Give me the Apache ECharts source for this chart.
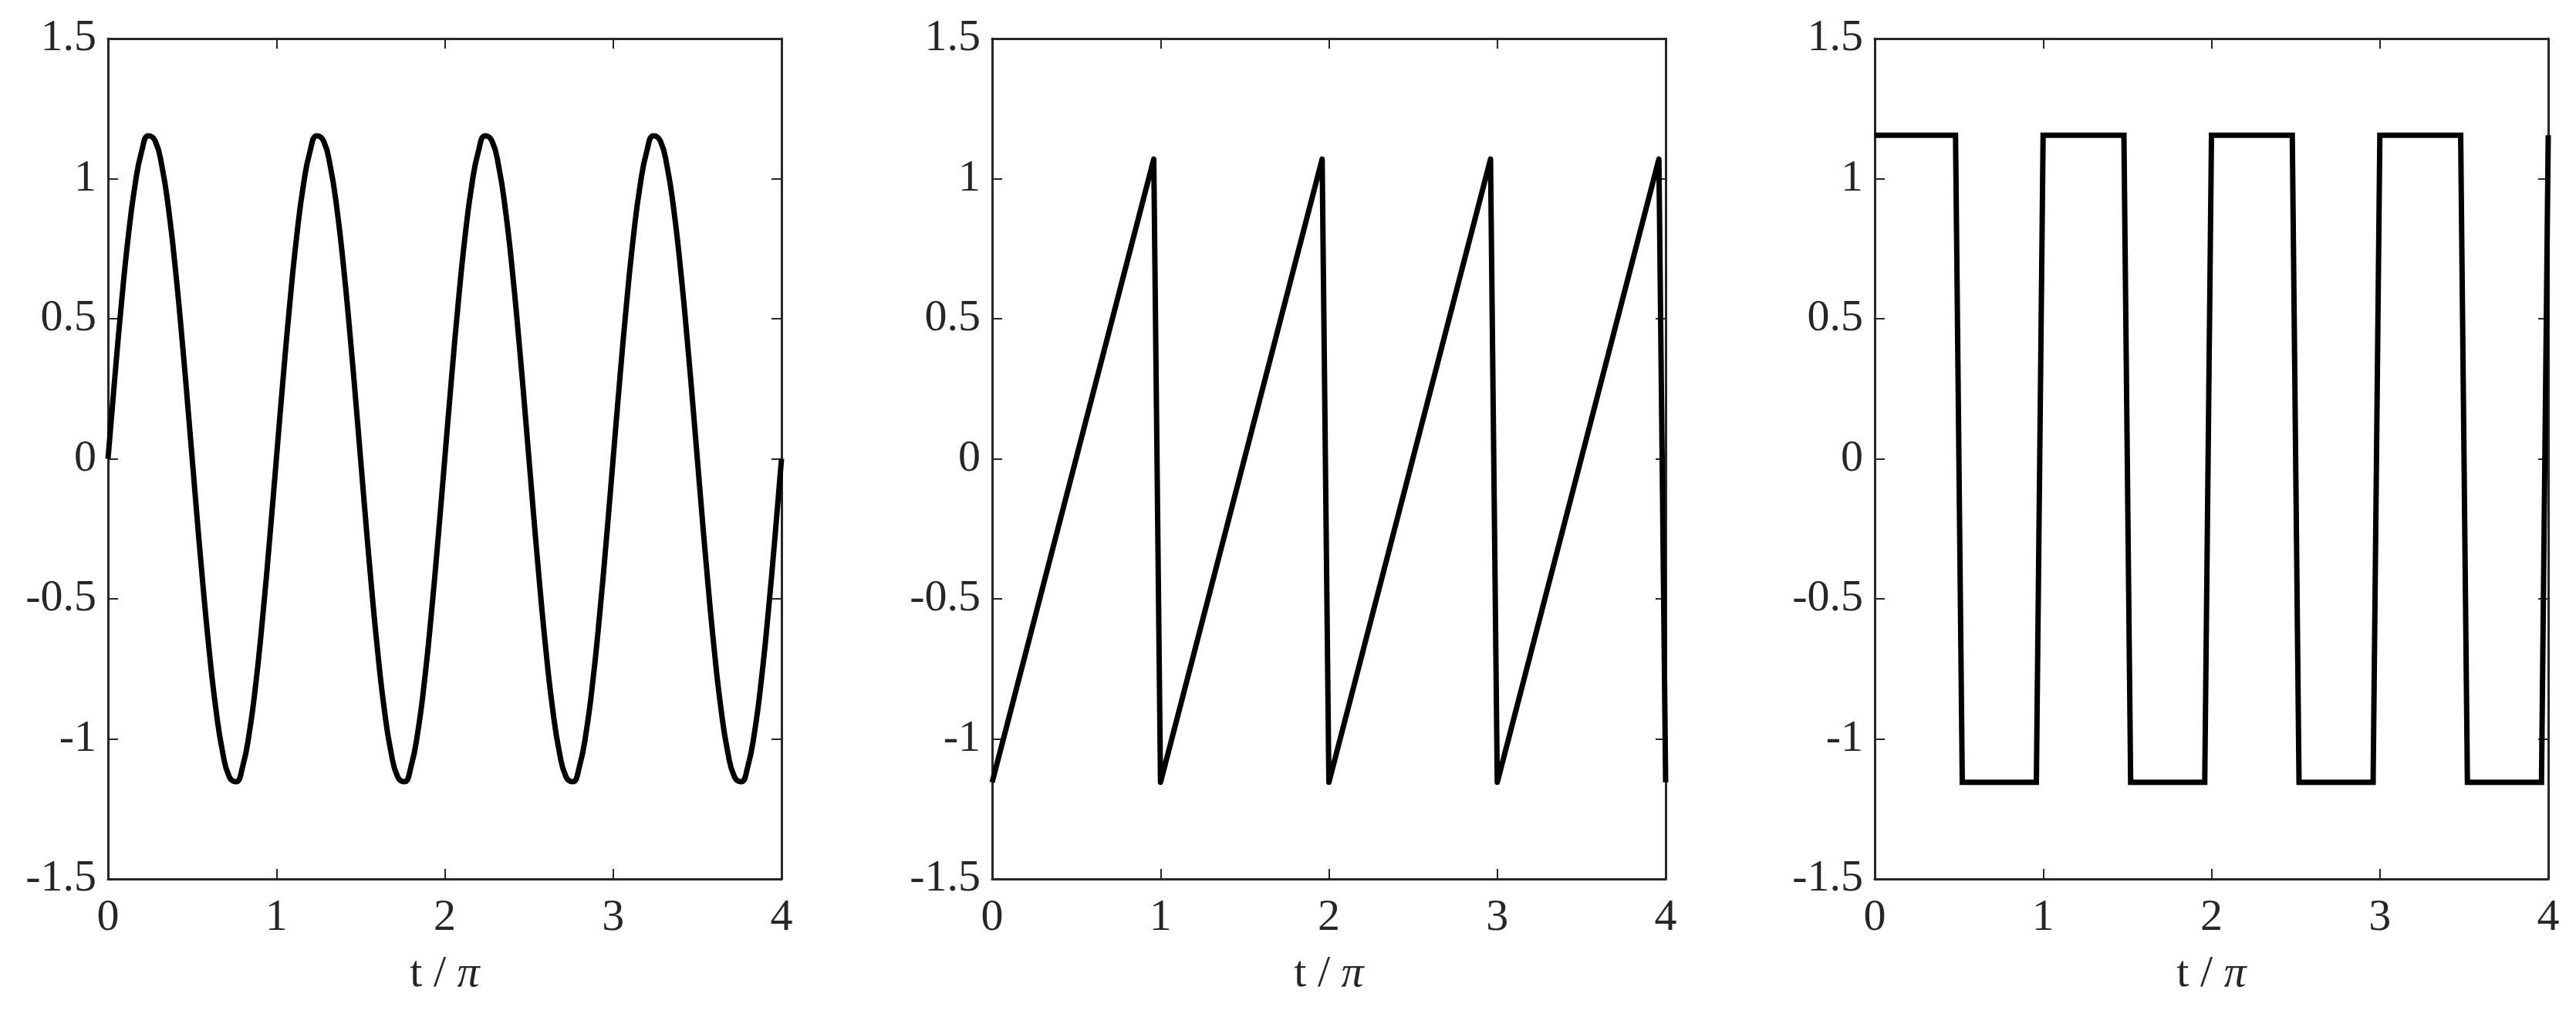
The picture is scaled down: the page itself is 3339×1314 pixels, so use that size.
<!DOCTYPE html>
<html>
<head>
<meta charset="utf-8">
<script src="https://cdn.jsdelivr.net/npm/echarts@6/dist/echarts.min.js"></script>
<style>
  html, body { margin: 0; padding: 0; background: #fff; }
  #main { width: 3339px; height: 1314px; }
</style>
</head>
<body>
<div id="main"></div>
<script>
// data (x in units of pi)
var tSine = [
  0, 0.04, 0.08, 0.12, 0.16, 0.2, 0.24, 0.28, 0.32, 0.36, 0.4, 0.44, 0.48, 0.52, 0.56, 0.6, 0.64, 0.68, 0.72, 0.76, 0.8, 0.84, 0.88, 0.92, 0.96,
  1, 1.04, 1.08, 1.12, 1.16, 1.2, 1.24, 1.28, 1.32, 1.36, 1.4, 1.44, 1.48, 1.52, 1.56, 1.6, 1.64, 1.68, 1.72, 1.76, 1.8, 1.84, 1.88, 1.92, 1.96,
  2, 2.04, 2.08, 2.12, 2.16, 2.2, 2.24, 2.28, 2.32, 2.36, 2.4, 2.44, 2.48, 2.52, 2.56, 2.6, 2.64, 2.68, 2.72, 2.76, 2.8, 2.84, 2.88, 2.92, 2.96,
  3, 3.04, 3.08, 3.12, 3.16, 3.2, 3.24, 3.28, 3.32, 3.36, 3.4, 3.44, 3.48, 3.52, 3.56, 3.6, 3.64, 3.68, 3.72, 3.76, 3.8, 3.84, 3.88, 3.92, 3.96,
  4
];
var sineValues = [
  0, 0.287, 0.556, 0.791, 0.975, 1.098, 1.153, 1.135, 1.045, 0.890, 0.679, 0.425, 0.145, -0.145, -0.425, -0.679, -0.890, -1.045, -1.135, -1.153, -1.098, -0.975, -0.791, -0.556, -0.287,
  0, 0.287, 0.556, 0.791, 0.975, 1.098, 1.153, 1.135, 1.045, 0.890, 0.679, 0.425, 0.145, -0.145, -0.425, -0.679, -0.890, -1.045, -1.135, -1.153, -1.098, -0.975, -0.791, -0.556, -0.287,
  0, 0.287, 0.556, 0.791, 0.975, 1.098, 1.153, 1.135, 1.045, 0.890, 0.679, 0.425, 0.145, -0.145, -0.425, -0.679, -0.890, -1.045, -1.135, -1.153, -1.098, -0.975, -0.791, -0.556, -0.287,
  0, 0.287, 0.556, 0.791, 0.975, 1.098, 1.153, 1.135, 1.045, 0.890, 0.679, 0.425, 0.145, -0.145, -0.425, -0.679, -0.890, -1.045, -1.135, -1.153, -1.098, -0.975, -0.791, -0.556, -0.287,
  0
];

// sawtooth corners
var tSaw = [0, 0.96, 1, 1.96, 2, 2.96, 3, 3.96, 4];
var sawValues = [-1.155, 1.07, -1.155, 1.07, -1.155, 1.07, -1.155, 1.07, -1.155];

// square wave corners
var tSquare = [0, 0.48, 0.52, 0.96, 1, 1.48, 1.52, 1.96, 2, 2.48, 2.52, 2.96, 3, 3.48, 3.52, 3.96, 4];
var squareValues = [1.155, 1.155, -1.155, -1.155, 1.155, 1.155, -1.155, -1.155, 1.155, 1.155, -1.155, -1.155, 1.155, 1.155, -1.155, -1.155, 1.155];

var yTicks = [-1.5, -1, -0.5, 0, 0.5, 1, 1.5];
var xTicks = [0, 1, 2, 3, 4];

var FONT = '"Liberation Serif", "DejaVu Serif", serif';
var AXIS_COLOR = '#262626';
var panelLeft = [140, 1286, 2430];

function pairs(xs, ys) {
  return xs.map(function (x, i) { return [x, ys[i]]; });
}

var grid = [], xAxis = [], yAxis = [], series = [];
var lines = [pairs(tSine, sineValues), pairs(tSaw, sawValues), pairs(tSquare, squareValues)];
var joins = ['round', 'round', 'miter'];

for (var i = 0; i < 3; i++) {
  grid.push({ left: panelLeft[i], top: 50, width: 873, height: 1089 });

  var line = { onZero: false, lineStyle: { color: AXIS_COLOR, width: 3 } };
  var tick = { inside: true, length: 13, lineStyle: { color: AXIS_COLOR, width: 2 } };

  // bottom x axis
  xAxis.push({
    type: 'value', gridIndex: i, position: 'bottom',
    min: xTicks[0], max: xTicks[xTicks.length - 1], interval: 1,
    axisLine: line, axisTick: tick, splitLine: { show: false },
    axisLabel: { margin: 22, color: AXIS_COLOR, fontFamily: FONT, fontSize: 58 },
    name: '{t|t / }{p|π}', nameLocation: 'middle', nameGap: 95,
    nameTextStyle: {
      rich: {
        t: { fontFamily: FONT, fontSize: 58, color: AXIS_COLOR },
        p: { fontFamily: FONT, fontSize: 58, color: AXIS_COLOR, fontStyle: 'italic' }
      }
    }
  });
  // top x axis (box)
  xAxis.push({
    type: 'value', gridIndex: i, position: 'top',
    min: xTicks[0], max: xTicks[xTicks.length - 1], interval: 1,
    axisLine: line, axisTick: tick, splitLine: { show: false },
    axisLabel: { show: false }
  });
  // left y axis
  yAxis.push({
    type: 'value', gridIndex: i, position: 'left',
    min: yTicks[0], max: yTicks[yTicks.length - 1], interval: 0.5,
    axisLine: line, axisTick: tick, splitLine: { show: false },
    axisLabel: { margin: 15, color: AXIS_COLOR, fontFamily: FONT, fontSize: 58 }
  });
  // right y axis (box)
  yAxis.push({
    type: 'value', gridIndex: i, position: 'right',
    min: yTicks[0], max: yTicks[yTicks.length - 1], interval: 0.5,
    axisLine: line, axisTick: tick, splitLine: { show: false },
    axisLabel: { show: false }
  });

  series.push({
    type: 'line',
    xAxisIndex: i * 2,
    yAxisIndex: i * 2,
    data: lines[i],
    showSymbol: false,
    clip: false,
    smooth: i === 0,  // only the sine is a curve
    lineStyle: { color: '#000', width: 7, join: joins[i] }
  });
}

var myChart = echarts.init(document.getElementById('main'));
myChart.setOption({
  backgroundColor: '#fff',
  animation: false,
  grid: grid,
  xAxis: xAxis,
  yAxis: yAxis,
  series: series
});
</script>
</body>
</html>
